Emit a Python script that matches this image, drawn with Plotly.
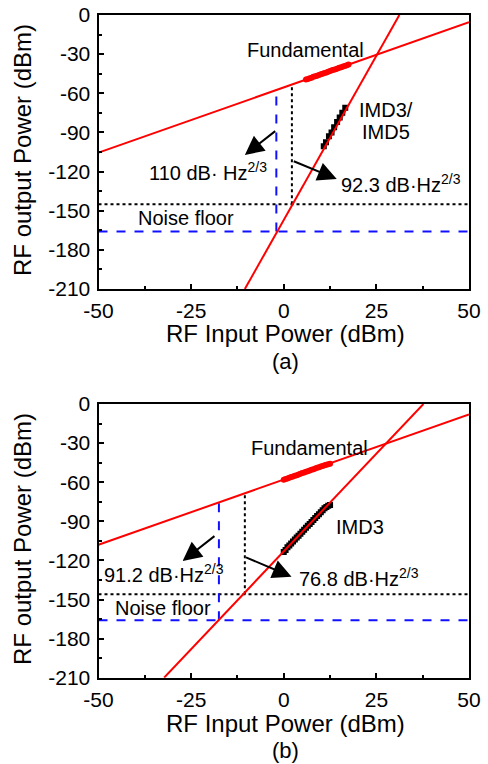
import plotly.graph_objects as go

# ---------------- data ----------------
x_ticks = [-50, -25, 0, 25, 50]
x_ticktext = ["-50", "-25", "0", "25", "50"]
y_ticks = [0, -30, -60, -90, -120, -150, -180, -210]
y_ticktext = ["0", "-30", "-60", "-90", "-120", "-150", "-180", "-210"]

# panel (a)
a_fund_line_x = [-50, 50]
a_fund_line_y = [-105.5, -5.5]
a_imd_line_x = [-10.5, 31.2]
a_imd_line_y = [-210, 0]
a_fund_x = [6.0, 6.5, 7.0, 7.5, 8.0, 8.5, 9.0, 9.5, 10.0, 10.5, 11.0, 11.5,
            12.0, 12.5, 13.0, 13.5, 14.0, 14.5, 15.0, 15.5, 16.0, 16.5, 17.0, 17.5]
a_fund_y = [-49.4, -49.0, -48.4, -48.0, -47.4, -47.0, -46.5, -46.0, -45.4, -45.0, -44.5, -44.0,
            -43.5, -43.0, -42.4, -42.0, -41.5, -41.0, -40.5, -40.0, -39.5, -39.0, -38.5, -38.0]
a_imd_x = [10.8, 11.4, 12.2, 12.9, 13.6, 14.4, 15.1, 15.8, 16.6]
a_imd_y = [-100.5, -97.5, -93.0, -90.0, -86.0, -82.0, -78.5, -75.0, -71.0]
a_noise_black = -145
a_noise_blue = -166
a_blue_x = [-2.0, -2.0]
a_blue_y = [-166, -57.5]
a_black_x = [2.2, 2.2]
a_black_y = [-145, -53.3]

# panel (b)
b_fund_line_x = [-50, 50]
b_fund_line_y = [-108, -8]
b_imd_line_x = [-32.3, 37.7]
b_imd_line_y = [-210, 0]
b_fund_x = [0.0, 0.5, 1.0, 1.5, 2.0, 2.5, 3.0, 3.5, 4.0, 4.5, 5.0, 5.5, 6.0,
            6.5, 7.0, 7.5, 8.0, 8.5, 9.0, 9.5, 10.0, 10.5, 11.0, 11.5, 12.0, 12.5]
b_fund_y = [-58.2, -57.6, -57.2, -56.6, -56.0, -55.6, -55.0, -54.6, -54.0, -53.6, -53.0, -52.6, -52.0,
            -51.6, -51.0, -50.5, -50.0, -49.5, -49.0, -48.6, -48.0, -47.6, -47.0, -46.6, -46.2, -45.8]
b_imd_x = [0.0, 0.5, 1.0, 1.5, 2.0, 2.5, 3.0, 3.5, 4.0, 4.5, 5.0, 5.5, 6.0,
           6.5, 7.0, 7.5, 8.0, 8.5, 9.0, 9.5, 10.0, 10.5, 11.0, 11.5, 12.0, 12.5]
b_imd_y = [-113.5, -112.0, -110.0, -108.5, -107.0, -105.5, -104.0, -102.5, -101.0, -99.5, -98.0, -96.5, -95.0,
           -93.5, -92.0, -90.5, -89.0, -87.5, -86.0, -84.5, -83.0, -81.5, -80.0, -79.0, -78.0, -77.5]
b_noise_black = -146
b_noise_blue = -166
b_blue_x = [-17.5, -17.5]
b_blue_y = [-166, -75.5]
b_black_x = [-10.5, -10.5]
b_black_y = [-146, -68.5]

RED = "#FF0000"
BLUE = "#1010FF"
FONT = "Arial, Liberation Sans, sans-serif"

fig = go.Figure()


def add_panel(xa, ya, fund_lx, fund_ly, imd_lx, imd_ly, fx, fy, ix, iy,
              nb, nbl, bx, by, kx, ky):
    common = dict(xaxis=xa, yaxis=ya, showlegend=False, hoverinfo="skip")
    fig.add_trace(go.Scatter(x=[-50, 50], y=[nb, nb], mode="lines",
                             line=dict(color="black", width=2, dash="dot"), **common))
    fig.add_trace(go.Scatter(x=[-50, 50], y=[nbl, nbl], mode="lines",
                             line=dict(color=BLUE, width=2, dash="dash"), **common))
    fig.add_trace(go.Scatter(x=bx, y=by, mode="lines",
                             line=dict(color=BLUE, width=2, dash="dash"), **common))
    fig.add_trace(go.Scatter(x=kx, y=ky, mode="lines",
                             line=dict(color="black", width=2, dash="dot"), **common))
    fig.add_trace(go.Scatter(x=ix, y=iy, mode="markers",
                             marker=dict(symbol="square", size=6, color="black"), **common))
    fig.add_trace(go.Scatter(x=fx, y=fy, mode="markers",
                             marker=dict(symbol="circle", size=6, color=RED, line=dict(width=0)), **common))
    fig.add_trace(go.Scatter(x=fund_lx, y=fund_ly, mode="lines",
                             line=dict(color=RED, width=2), **common))
    fig.add_trace(go.Scatter(x=imd_lx, y=imd_ly, mode="lines",
                             line=dict(color=RED, width=2), **common))


add_panel("x", "y", a_fund_line_x, a_fund_line_y, a_imd_line_x, a_imd_line_y,
          a_fund_x, a_fund_y, a_imd_x, a_imd_y, a_noise_black, a_noise_blue,
          a_blue_x, a_blue_y, a_black_x, a_black_y)
add_panel("x2", "y2", b_fund_line_x, b_fund_line_y, b_imd_line_x, b_imd_line_y,
          b_fund_x, b_fund_y, b_imd_x, b_imd_y, b_noise_black, b_noise_blue,
          b_blue_x, b_blue_y, b_black_x, b_black_y)

W, H = 488, 764
xdom = [98.5 / W, 469 / W]
ydom_a = [1 - 289 / H, 1 - 15 / H]
ydom_b = [1 - 677.7 / H, 1 - 404 / H]

axis_common = dict(showline=True, linewidth=2, linecolor="black", mirror=True,
                   ticks="inside", ticklen=5, tickwidth=1.5, tickcolor="black",
                   showgrid=False, zeroline=False, automargin=False,
                   tickfont=dict(family=FONT, size=21, color="black"),
                   ticklabelstandoff=2)
xaxis_common = dict(axis_common, range=[-50, 50], tickvals=x_ticks, ticktext=x_ticktext,
                    minor=dict(ticks="inside", ticklen=3, tickwidth=1.5, dtick=12.5, tick0=0,
                               tickcolor="black"))
yaxis_common = dict(axis_common, range=[-210, 0], tickvals=y_ticks, ticktext=y_ticktext,
                    minor=dict(ticks="inside", ticklen=3, tickwidth=1.5, dtick=15, tick0=0,
                               tickcolor="black"))

fig.update_layout(
    template="none",
    width=W, height=H, margin=dict(l=0, r=0, t=0, b=0, pad=0),
    paper_bgcolor="white", plot_bgcolor="white",
    font=dict(family=FONT, color="black"),
    xaxis=dict(xaxis_common, domain=xdom, anchor="y"),
    yaxis=dict(yaxis_common, domain=ydom_a, anchor="x"),
    xaxis2=dict(xaxis_common, domain=xdom, anchor="y2"),
    yaxis2=dict(yaxis_common, domain=ydom_b, anchor="x2"),
)

ann = []


def txt(xr, yr, x, y, t, xanchor="center", size=20):
    ann.append(dict(xref=xr, yref=yr, x=x, y=y, text=t, showarrow=False,
                    xanchor=xanchor, yanchor="middle",
                    font=dict(family=FONT, size=size, color="black")))


def arrow(xr, yr, tx, ty, hx, hy):
    ann.append(dict(xref=xr, yref=yr, axref=xr, ayref=yr, x=hx, y=hy, ax=tx, ay=ty,
                    text="", showarrow=True, arrowhead=2, arrowsize=1.9,
                    arrowwidth=2, arrowcolor="black"))


# panel (a) texts
txt("x", "y", 5.9, -26.8, "Fundamental")
txt("x", "y", 27.5, -72.8, "IMD3/")
txt("x", "y", 27.5, -89.4, "IMD5")
txt("x", "y", -37.0, -120, "110 dB· Hz<sup>2/3</sup>", xanchor="left")
txt("x", "y", 15.0, -129, "92.3 dB·Hz<sup>2/3</sup>", xanchor="left")
txt("x", "y", -26.25, -155.6, "Noise floor")
arrow("x", "y", -1.9, -88.1, -10.5, -107.3)
arrow("x", "y", 2.3, -111.6, 14.3, -125.7)

# panel (b) texts
txt("x2", "y2", 6.95, -33.5, "Fundamental")
txt("x2", "y2", 20.6, -94.1, "IMD3")
txt("x2", "y2", -49.1, -129.9, "91.2 dB·Hz<sup>2/3</sup>", xanchor="left")
txt("x2", "y2", 3.5, -133, "76.8 dB·Hz<sup>2/3</sup>", xanchor="left")
txt("x2", "y2", -32.6, -156.8, "Noise floor")
arrow("x2", "y2", -18.3, -100.5, -27.3, -120.5)
arrow("x2", "y2", -10.6, -117.2, 2.1, -132.5)

# axis titles and panel labels
for yc in (150, 539):
    ann.append(dict(xref="paper", yref="paper", x=22 / W, y=1 - yc / H,
                    text="RF output Power (dBm)", showarrow=False, textangle=-90,
                    xanchor="center", yanchor="middle",
                    font=dict(family=FONT, size=24, color="black")))
for yc in (334, 723):
    ann.append(dict(xref="paper", yref="paper", x=285 / W, y=1 - yc / H,
                    text="RF Input Power (dBm)", showarrow=False,
                    xanchor="center", yanchor="middle",
                    font=dict(family=FONT, size=24, color="black")))
for yc, lab in ((361, "(a)"), (750, "(b)")):
    ann.append(dict(xref="paper", yref="paper", x=285 / W, y=1 - yc / H,
                    text=lab, showarrow=False, xanchor="center", yanchor="middle",
                    font=dict(family=FONT, size=22, color="black")))

fig.update_layout(annotations=ann)
fig.write_html("out.html", config={"displayModeBar": False},
               post_script="document.body.style.margin='0';document.body.style.padding='0';")
